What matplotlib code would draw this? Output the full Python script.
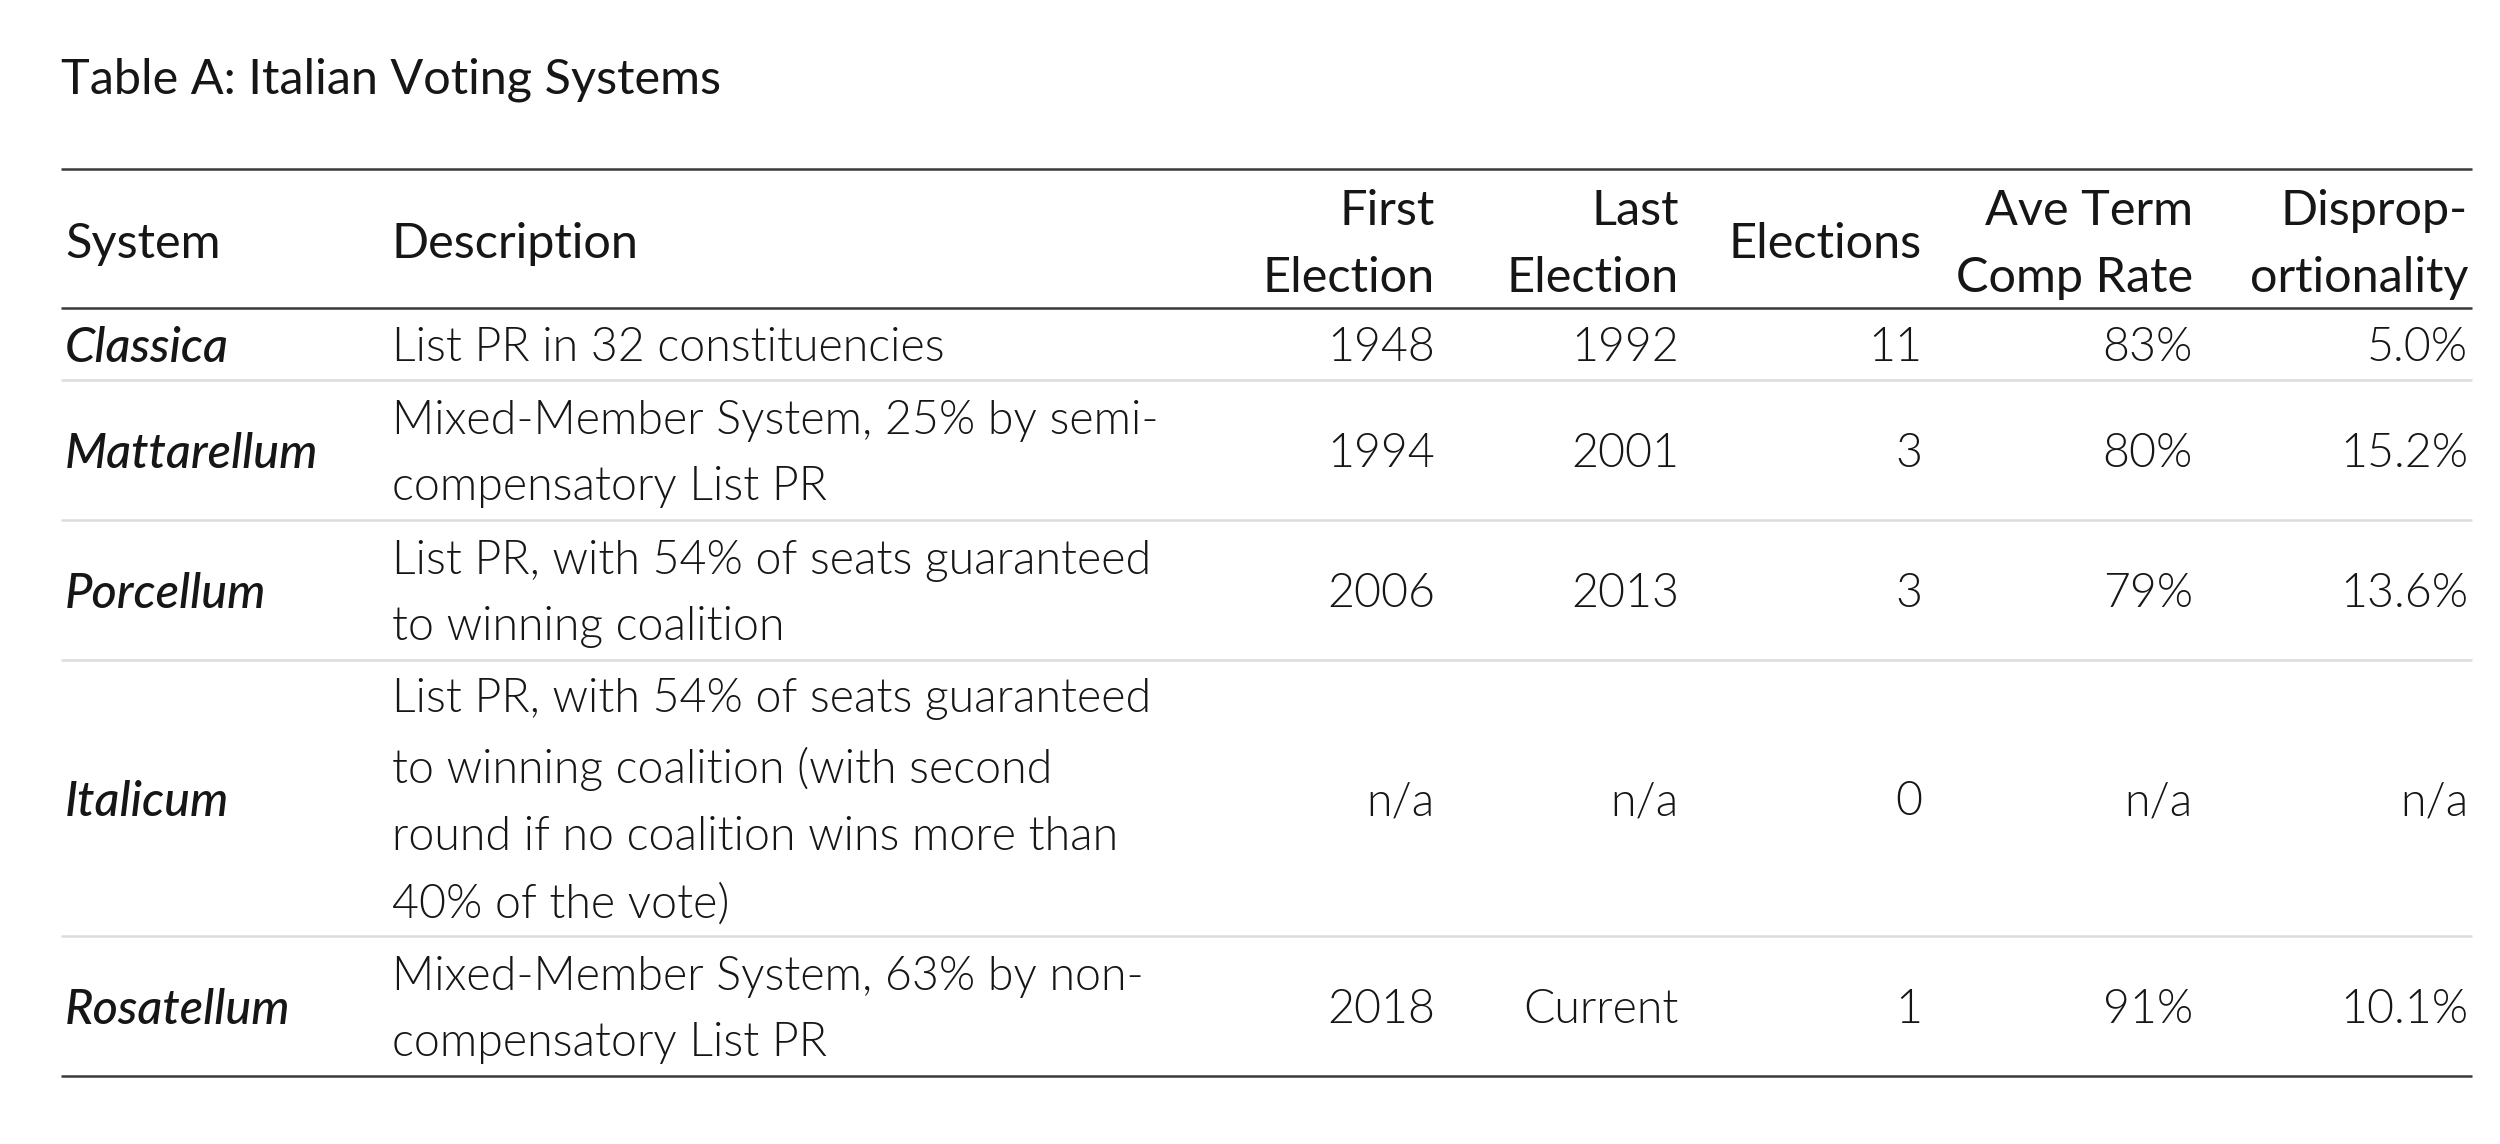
import matplotlib
matplotlib.use("Agg")
import matplotlib.pyplot as plt

# table contents
title = "Table A: Italian Voting Systems"
headers = ["System", "Description", "First\nElection", "Last\nElection", "Elections",
           "Ave Term\nComp Rate", "Disprop-\nortionality"]
systems = ["Classica", "Mattarellum", "Porcellum", "Italicum", "Rosatellum"]
descriptions = [
    "List PR in 32 constituencies",
    "Mixed-Member System, 25% by semi-\ncompensatory List PR",
    "List PR, with 54% of seats guaranteed\nto winning coalition",
    "List PR, with 54% of seats guaranteed\nto winning coalition (with second\n"
    "round if no coalition wins more than\n40% of the vote)",
    "Mixed-Member System, 63% by non-\ncompensatory List PR",
]
first_election = [1948, 1994, 2006, None, 2018]
last_election = [1992, 2001, 2013, None, "Current"]
elections = [11, 3, 3, 0, 1]
comp_rate = [0.83, 0.80, 0.79, None, 0.91]
disprop = [5.0, 15.2, 13.6, None, 10.1]


def fmt(v, kind=""):
    if v is None:
        return "n/a"
    if kind == "pct0":
        return f"{v:.0%}"
    if kind == "pct1":
        return f"{v:.1f}%"
    return str(v)


FAM = ["Lato", "DejaVu Sans"]
FS_HEAD = 35     # pt
FS_BODY = 33.5
PITCH = 68       # px between text lines
LS = 1.73
INK = "#161616"

fig = plt.figure(figsize=(25, 11.44), dpi=100)
ax = fig.add_axes([0, 0, 1, 1])
ax.set_xlim(0, 2500)
ax.set_ylim(1144, 0)
ax.axis("off")

x_left, x_right = 61, 2472
x_sys, x_desc = 65, 392
x_num = [1435, 1679, 1922, 2193, 2468]

ax.text(x_left, 80, title, fontsize=FS_HEAD, family=FAM, weight="normal", color=INK, va="center")

# header
top, head_bot = 169, 308
ax.plot([x_left, x_right], [top, top], color="#3a3a3a", lw=1.8, solid_capstyle="butt")
hy = (top + head_bot) / 2 + 6
hkw = dict(fontsize=FS_HEAD, family=FAM, weight="normal", color=INK, va="center",
           linespacing=LS * FS_BODY / FS_HEAD)
ax.text(x_sys, hy, headers[0], ha="left", **hkw)
ax.text(x_desc, hy, headers[1], ha="left", **hkw)
for x, h in zip(x_num, headers[2:]):
    ax.text(x, hy, h, ha="right", multialignment="right", **hkw)
ax.plot([x_left, x_right], [head_bot, head_bot], color="#3a3a3a", lw=1.8, solid_capstyle="butt")

# body rows
bkw = dict(fontsize=FS_BODY, family=FAM, weight=300, color=INK, va="center", linespacing=LS)
y = head_bot
for i, sysname in enumerate(systems):
    n_lines = descriptions[i].count("\n") + 1
    h = n_lines * PITCH + 4
    yc = y + h / 2 + 4
    ax.text(x_sys, yc, sysname, ha="left", fontsize=FS_HEAD, family=FAM, weight=500,
            style="italic", color=INK, va="center")
    ax.text(x_desc, yc, descriptions[i], ha="left", **bkw)
    cells = [fmt(first_election[i]), fmt(last_election[i]), fmt(elections[i]),
             fmt(comp_rate[i], "pct0"), fmt(disprop[i], "pct1")]
    for x, c in zip(x_num, cells):
        ax.text(x, yc, c, ha="right", **bkw)
    y += h
    last = i == len(systems) - 1
    ax.plot([x_left, x_right], [y, y], color="#3a3a3a" if last else "#dcdcdc",
            lw=1.8, solid_capstyle="butt")

fig.savefig("out.png", dpi=100)
